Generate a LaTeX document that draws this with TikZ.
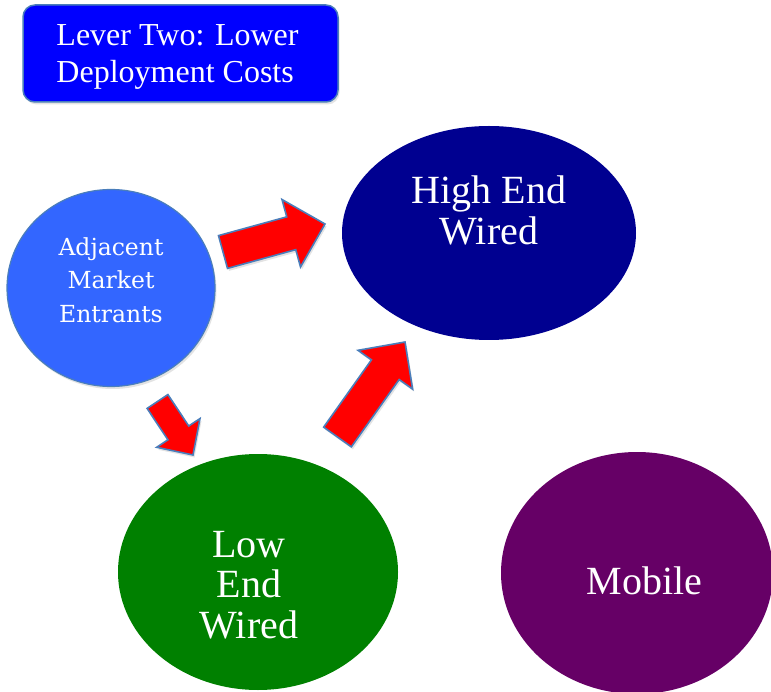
\documentclass[tikz,border=0pt]{standalone}
\usepackage{fontspec}
\setmainfont{Liberation Serif}
\newfontfamily\adjfont{DejaVu Serif}
\usetikzlibrary{shapes.geometric,calc,shadows}

\definecolor{boxblue}{HTML}{0000FF}
\definecolor{edgeblue}{HTML}{4A7EBB}
\definecolor{adjblue}{HTML}{3366FF}
\definecolor{navyfill}{HTML}{000090}
\definecolor{greenfill}{HTML}{008000}
\definecolor{purplefill}{HTML}{660066}
\definecolor{arrowred}{HTML}{FF0000}

% block arrow: #1 tail, #2 tip, #3 half shaft width, #4 half head width, #5 head length
\newcommand\blockarrow[5]{%
  \path ($(#2)!#5!(#1)$) coordinate (#1-hb);
  \filldraw[redarrow]
    ($(#1)!#3!90:(#2)$) -- ($(#1-hb)!#3!90:(#2)$) -- ($(#1-hb)!#4!90:(#2)$)
    -- (#2)
    -- ($(#1-hb)!#4!-90:(#2)$) -- ($(#1-hb)!#3!-90:(#2)$) -- ($(#1)!#3!-90:(#2)$)
    -- cycle;
}

\tikzset{
  softshadow/.style={drop shadow={opacity=0.22,shadow xshift=1.5pt,shadow yshift=-2.5pt}},
  titlebox/.style={draw=edgeblue, line width=1.5pt, fill=boxblue, rounded corners=12pt,
    minimum width=315pt, minimum height=97pt, inner sep=0pt, softshadow},
  titletext/.style={text=white, align=left, inner sep=0pt,
    font=\fontsize{32}{37.5}\selectfont},
  blob/.style={ellipse, inner sep=0pt, draw=none},
  bigtext/.style={text=white, align=center, font=\fontsize{40}{40.5}\selectfont, inner sep=0pt},
  adjtext/.style={text=white, align=center, font=\adjfont\fontsize{23.5}{33.5}\selectfont, inner sep=0pt},
  redarrow/.style={fill=arrowred, draw=edgeblue, line width=1.6pt, line join=miter, softshadow},
}

\begin{document}
\begin{tikzpicture}[x=1pt, y=-1pt]
  \useasboundingbox (0,0) rectangle (771,692);
  \clip (0,0) rectangle (771,692);

  % title box
  \node[titlebox] (lever) at (180.5,53.5) {};
  \node[titletext] (lever-t) at (177.5,57) {Lever Two: Lower\\Deployment Costs};

  % market segments
  \node[blob, fill=adjblue, draw=edgeblue, line width=1.2pt, softshadow,
        minimum width=208pt, minimum height=197pt] (adj) at (111,288) {};
  \node[adjtext] (adj-t) at (111,280) {Adjacent\\Market\\Entrants};

  \node[blob, fill=navyfill, minimum width=294pt, minimum height=214pt] (high) at (489,233) {};
  \node[bigtext] (high-t) at (489,210.5) {High End\\Wired};

  \node[blob, fill=greenfill, minimum width=280pt, minimum height=236pt] (low) at (258,572) {};
  \node[bigtext] (low-t) at (249,585) {Low\\End\\Wired};

  \node[blob, fill=purplefill, minimum width=272pt, minimum height=242pt] (mob) at (637,573) {};
  \node[bigtext] (mob-t) at (644.5,581) {Mobile};

  % red block arrows between the segments
  \coordinate (a1) at (223,252);   \coordinate (a1-tip) at (325,224);
  \coordinate (a2) at (157.5,401.5); \coordinate (a2-tip) at (193,455);
  \coordinate (a3) at (337.5,437); \coordinate (a3-tip) at (405,342);
  \blockarrow{a1}{a1-tip}{17pt}{35pt}{35pt}
  \blockarrow{a2}{a2-tip}{12.5pt}{26pt}{26.5pt}
  \blockarrow{a3}{a3-tip}{17pt}{33.5pt}{34pt}
\end{tikzpicture}
\end{document}
